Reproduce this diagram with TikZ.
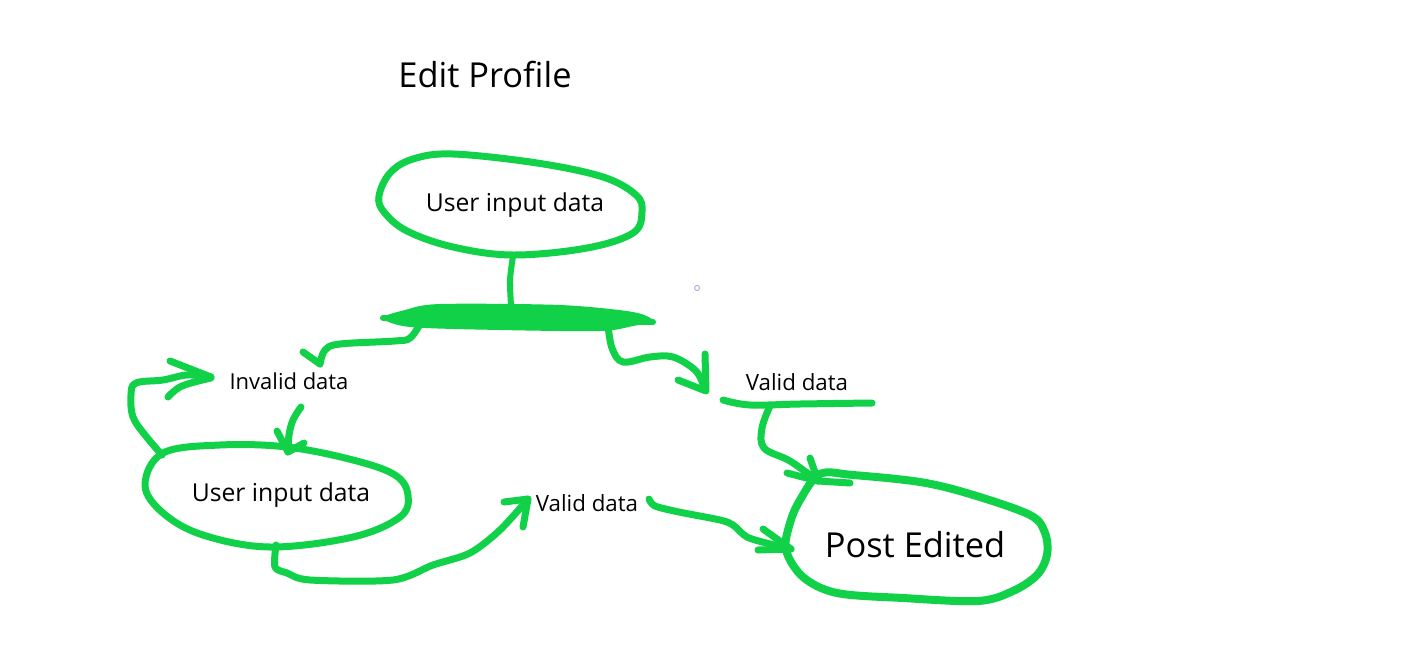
\documentclass[tikz,border=0pt]{standalone}
\usepackage{fontspec}
\setmainfont{Open Sans}
\definecolor{pen}{RGB}{17,209,72}
\begin{document}
\begin{tikzpicture}[x=1pt,y=-1pt,
  ink/.style={draw=pen, line width=7pt, line cap=round, line join=round},
  thin ink/.style={ink, line width=6pt},
  lbl/.style={inner sep=0pt, text=black}]
\useasboundingbox (0,0) rectangle (1416,664);
\fill[white] (0,0) rectangle (1416,664);

% texts
\node[lbl, font=\fontsize{34.4}{40}\selectfont] (title) at (485,75) {Edit Profile};
\node[lbl, font=\fontsize{24.7}{30}\selectfont] (in1) at (515,205) {User input data};
\node[lbl, font=\fontsize{22}{26}\selectfont] (inv) at (289,381) {Invalid data};
\node[lbl, font=\fontsize{24.7}{30}\selectfont] (in2) at (281,495) {User input data};
\node[lbl, font=\fontsize{22.3}{26}\selectfont] (val1) at (797,382) {Valid data};
\node[lbl, font=\fontsize{22.3}{26}\selectfont] (val2) at (587,503) {Valid data};
\node[lbl, font=\fontsize{34.4}{40}\selectfont] (post) at (915,545) {Post Edited};

% tiny circle
\draw[blue!25!gray!60, line width=0.8pt] (697,288) circle (2.5pt);

% top ellipse
\draw[ink] plot[smooth cycle, tension=0.6] coordinates {(379,196) (390,173) (413,159) (453,154) (537,163) (603,177) (636,195) (642,212) (633,233) (587,248) (513,255) (453,247) (407,231) (384,212)};
% stem
\draw[thin ink] plot[smooth] coordinates {(513,256) (510,280) (511,305)};
% bar
\fill[pen] plot[smooth cycle, tension=0.5] coordinates {(383,318) (405,310) (440,304) (560,305) (633,312) (653,321) (633,326) (600,331) (500,330) (410,327)};
\draw[ink, line width=6pt] (383,318) -- (653,322);

% left branch to Invalid data
\coordinate (tipInv) at (320,364);
\draw[ink] plot[smooth, tension=0.6] coordinates {(420,324) (410,338) (395,341) (340,344) (325,350) (320,364)};
\draw[ink] (303,352) -- (tipInv);

% right branch to Valid data (right)
\coordinate (tipVal1) at (706,391);
\draw[ink] plot[smooth, tension=0.6] coordinates {(608,325) (612,348) (623,362) (650,357) (673,357) (695,370) (703,384)};
\draw[ink] (705,354) -- (tipVal1) -- (678,380);

% underline of Valid data
\draw[ink] plot[smooth, tension=0.6] coordinates {(723,400) (750,405) (800,404) (872,403)};
% down to Post Edited
\coordinate (tipPost1) at (818,481);
\draw[ink] plot[smooth, tension=0.6] coordinates {(770,406) (762,428) (764,448) (790,461) (818,481)};
\draw[ink] (810,458) -- (tipPost1) -- (787,473);
\draw[ink] (tipPost1) -- (850,483);

% Post Edited ellipse
\draw[ink, line width=8pt] plot[smooth cycle, tension=0.55] coordinates {(820,474) (853,475) (920,482) (970,494) (1030,515) (1045,533) (1047,555) (1037,575) (1013,591) (978,601) (903,598) (837,593) (803,577) (786,550) (790,523) (800,500)};

% Invalid data -> lower ellipse
\coordinate (tipIn2) at (288,452);
\draw[ink] plot[smooth, tension=0.6] coordinates {(301,407) (293,420) (289,435) (288,452)};
\draw[ink] (277,431) -- (tipIn2) -- (304,443);

% lower-left ellipse
\draw[ink] plot[smooth cycle, tension=0.6] coordinates {(163,453) (220,445) (287,447) (353,460) (395,475) (408,495) (400,517) (353,537) (270,547) (203,535) (163,513) (145,485)};

% loop back to Invalid data
\coordinate (tipLoop) at (211,377);
\draw[ink] plot[smooth, tension=0.6] coordinates {(162,455) (145,435) (133,417) (131,395) (136,383) (163,380) (187,375) (211,377)};
\draw[ink] (170,361) -- (tipLoop);
\draw[ink] plot[smooth, tension=0.6] coordinates {(168,397) (182,386) (211,378)};

% lower ellipse -> Valid data (middle)
\coordinate (tipVal2) at (528,499);
\draw[ink] plot[smooth, tension=0.5] coordinates {(276,545) (275,567) (287,573) (310,580) (393,580) (433,565) (470,553) (500,530) (528,499)};
\draw[ink] (504,502) -- (tipVal2) -- (523,527);

% Valid data (middle) -> Post Edited
\coordinate (tipPost2) at (791,549);
\draw[ink] plot[smooth, tension=0.5] coordinates {(649,499) (655,506) (679,512) (720,520) (733,525) (747,537) (770,544) (791,549)};
\draw[ink] (763,529) -- (tipPost2) -- (758,550);
\end{tikzpicture}
\end{document}
